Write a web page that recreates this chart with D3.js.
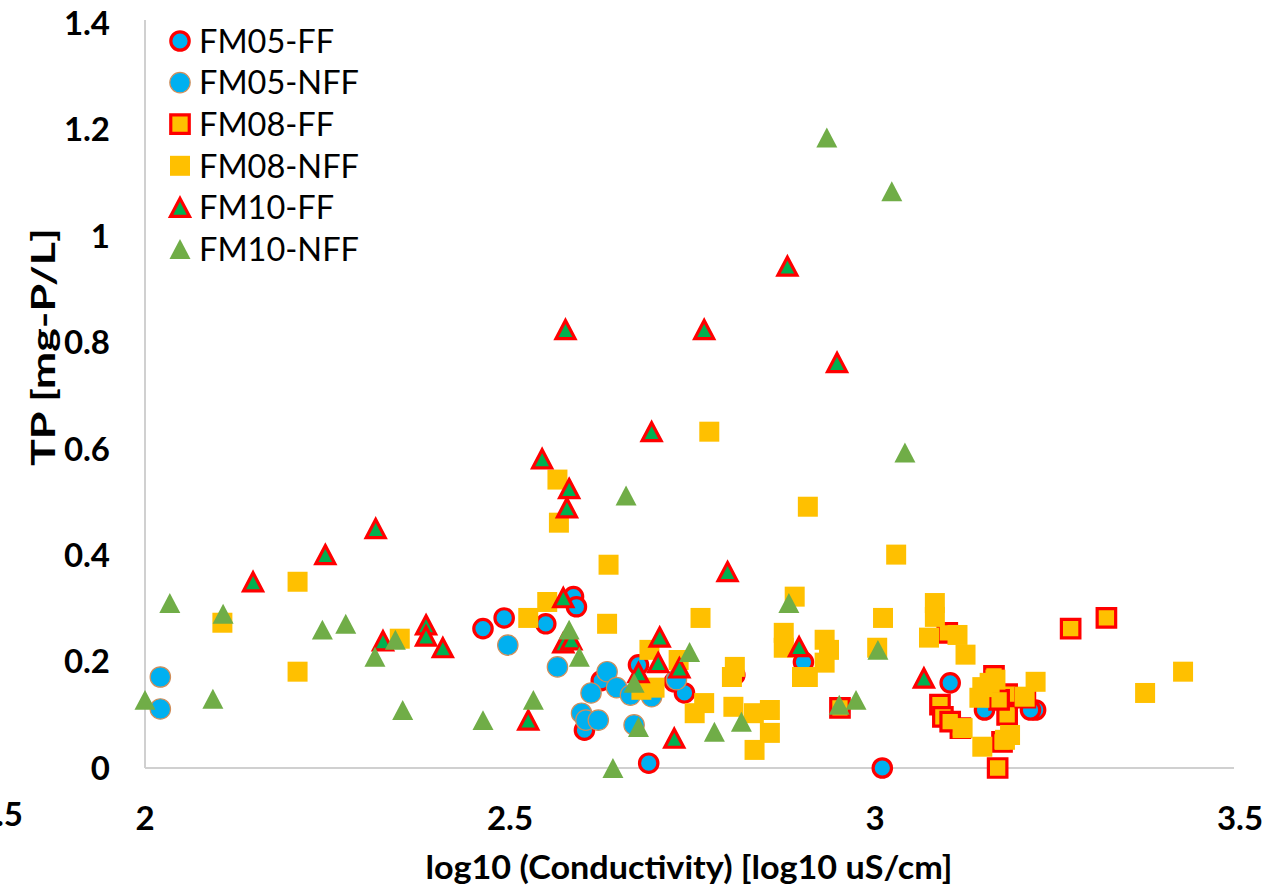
<!DOCTYPE html>
<html>
<head>
<meta charset="utf-8">
<script src="https://cdn.jsdelivr.net/npm/d3@7"></script>
<style>
  html, body { margin: 0; padding: 0; background: #ffffff; overflow: hidden; }
  svg { display: block; }
</style>
</head>
<body>
<svg id="chart" width="1276" height="886"></svg>
<script>
// TP vs log10(conductivity) for three farms, flow-forced (FF) and not (NFF)

const seriesNames = ["FM05-FF", "FM05-NFF", "FM08-FF", "FM08-NFF", "FM10-FF", "FM10-NFF"];

const fm05FF = [
  [2.463, 0.262], [2.492, 0.282], [2.549, 0.271], [2.587, 0.322], [2.591, 0.303],
  [2.602, 0.071], [2.625, 0.164], [2.676, 0.194], [2.725, 0.162], [2.739, 0.141],
  [2.690, 0.009], [2.808, 0.175], [2.902, 0.199], [3.103, 0.160], [3.010, 0.000],
  [3.220, 0.109], [3.213, 0.109], [3.150, 0.109]
];

const fm05NFF = [
  [2.021, 0.171], [2.021, 0.111], [2.497, 0.231], [2.565, 0.190], [2.633, 0.181],
  [2.611, 0.141], [2.646, 0.151], [2.665, 0.137], [2.694, 0.134], [2.598, 0.103],
  [2.604, 0.090], [2.621, 0.090], [2.670, 0.081], [2.728, 0.166], [3.154, 0.134]
];

const fm08FF = [
  [2.952, 0.113], [3.268, 0.262], [3.317, 0.282], [3.099, 0.254], [3.163, 0.173],
  [3.181, 0.139], [3.089, 0.119], [3.093, 0.096], [3.117, 0.075], [3.181, 0.100],
  [3.206, 0.132], [3.174, 0.049], [3.168, 0.000], [3.161, 0.156], [3.103, 0.087],
  [3.170, 0.128]
];

const fm08NFF = [
  [2.106, 0.273], [2.209, 0.181], [2.209, 0.350], [2.349, 0.243], [2.525, 0.282],
  [2.551, 0.312], [2.565, 0.542], [2.567, 0.461], [2.773, 0.632], [2.635, 0.382],
  [2.633, 0.271], [2.761, 0.282], [2.691, 0.222], [2.731, 0.203], [2.698, 0.151],
  [2.680, 0.147], [2.753, 0.103], [2.766, 0.122], [2.804, 0.171], [2.808, 0.190],
  [2.806, 0.115], [2.834, 0.103], [2.835, 0.034], [2.856, 0.109], [2.856, 0.066],
  [2.908, 0.491], [3.029, 0.401], [2.890, 0.322], [2.875, 0.254], [2.875, 0.226],
  [2.931, 0.241], [2.937, 0.222], [2.931, 0.198], [2.900, 0.171], [2.908, 0.171],
  [3.011, 0.282], [3.003, 0.226], [3.082, 0.310], [3.082, 0.284], [3.074, 0.245],
  [3.113, 0.250], [3.124, 0.213], [3.147, 0.152], [3.157, 0.160], [3.165, 0.166],
  [3.220, 0.162], [3.143, 0.132], [3.205, 0.134], [3.120, 0.075], [3.147, 0.040],
  [3.185, 0.062], [3.370, 0.141], [3.422, 0.181], [3.178, 0.053]
];

const fm10FF = [
  [2.148, 0.350], [2.247, 0.401], [2.316, 0.450], [2.326, 0.239], [2.385, 0.269],
  [2.385, 0.248], [2.408, 0.226], [2.525, 0.090], [2.544, 0.581], [2.576, 0.824],
  [2.581, 0.525], [2.578, 0.489], [2.573, 0.320], [2.573, 0.235], [2.584, 0.241],
  [2.694, 0.632], [2.766, 0.824], [2.798, 0.369], [2.705, 0.246], [2.703, 0.198],
  [2.732, 0.188], [2.676, 0.179], [2.725, 0.056], [2.896, 0.228], [3.067, 0.169],
  [2.880, 0.943], [2.948, 0.762]
];

const fm10NFF = [
  [2.000, 0.128], [2.034, 0.310], [2.093, 0.130], [2.107, 0.290], [2.243, 0.260],
  [2.275, 0.271], [2.315, 0.209], [2.343, 0.241], [2.353, 0.109], [2.463, 0.090],
  [2.532, 0.128], [2.581, 0.260], [2.595, 0.209], [2.659, 0.512], [2.641, 0.000],
  [2.670, 0.160], [2.676, 0.077], [2.746, 0.218], [2.780, 0.068], [2.817, 0.087],
  [2.882, 0.310], [2.951, 0.119], [2.974, 0.128], [3.004, 0.222], [3.041, 0.593],
  [2.934, 1.185], [3.023, 1.084]
];

const xTicks = [2, 2.5, 3, 3.5];
const xTickLabels = ["2", "2.5", "3", "3.5"];
const yTicks = [0, 0.2, 0.4, 0.6, 0.8, 1, 1.2, 1.4];
const yTickLabels = ["0", "0.2", "0.4", "0.6", "0.8", "1", "1.2", "1.4"];
const xTitle = "log10 (Conductivity) [log10 uS/cm]";
const yTitle = "TP [mg-P/L]";

// marker styles per series
const RED = "#FF0000";
const styles = {
  "FM05-FF":  { shape: "circle",   fill: "#00B0F0", stroke: RED,       sw: 3.2 },
  "FM05-NFF": { shape: "circle",   fill: "#00B0F0", stroke: "#D08E5A", sw: 1.2 },
  "FM08-FF":  { shape: "square",   fill: "#FFC000", stroke: RED,       sw: 3.2 },
  "FM08-NFF": { shape: "square",   fill: "#FFC000", stroke: "none",    sw: 0 },
  "FM10-FF":  { shape: "triangle", fill: "#00B050", stroke: RED,       sw: 3.2 },
  "FM10-NFF": { shape: "triangle", fill: "#70AD47", stroke: "none",    sw: 0 }
};

const seriesData = {
  "FM05-FF": fm05FF, "FM05-NFF": fm05NFF,
  "FM08-FF": fm08FF, "FM08-NFF": fm08NFF,
  "FM10-FF": fm10FF, "FM10-NFF": fm10NFF
};

// isosceles triangle centred on its bounding box
const triangleType = {
  draw(ctx, size) {
    const w = Math.sqrt(size);
    const h = w * 0.95;
    ctx.moveTo(0, -h / 2);
    ctx.lineTo(w / 2, h / 2);
    ctx.lineTo(-w / 2, h / 2);
    ctx.closePath();
  }
};

function symbolPath(shape, outline) {
  if (shape === "circle") {
    const r = outline ? 9.2 : 10.2;
    return d3.symbol(d3.symbolCircle, Math.PI * r * r)();
  }
  if (shape === "square") {
    const s = outline ? 18.5 : 20;
    return d3.symbol(d3.symbolSquare, s * s)();
  }
  const w = outline ? 19 : 21;
  return d3.symbol(triangleType, w * w)();
}

const svg = d3.select("#chart");

const x = d3.scaleLinear().domain([2, 3.5]).range([145, 1240]);
const y = d3.scaleLinear().domain([0, 1.4]).range([768, 23]);

const tickFont = "Lato, 'Open Sans', sans-serif";

// axis lines
const axisG = svg.append("g");
axisG.append("line")
  .attr("x1", x(2)).attr("x2", x(2))
  .attr("y1", y(1.4) - 3).attr("y2", y(0))
  .attr("stroke", "#D0D0D0").attr("stroke-width", 2);
axisG.append("line")
  .attr("x1", x(2)).attr("x2", x(3.5) - 6)
  .attr("y1", y(0)).attr("y2", y(0))
  .attr("stroke", "#D0D0D0").attr("stroke-width", 2);

// y tick labels
svg.append("g").selectAll("text")
  .data(yTicks)
  .join("text")
  .attr("x", 110)
  .attr("y", d => y(d))
  .attr("dy", "0.36em")
  .attr("text-anchor", "end")
  .attr("font-family", tickFont)
  .attr("font-weight", "bold")
  .attr("font-size", 33)
  .attr("fill", "#000")
  .text((d, i) => yTickLabels[i]);

// x tick labels
svg.append("g").selectAll("text")
  .data(xTicks)
  .join("text")
  .attr("x", d => x(d))
  .attr("y", 830)
  .attr("text-anchor", "middle")
  .attr("font-family", tickFont)
  .attr("font-weight", "bold")
  .attr("font-size", 33)
  .attr("fill", "#000")
  .text((d, i) => xTickLabels[i]);

// neighbouring panel's last x label, cut by the page edge
svg.append("text")
  .attr("x", 23).attr("y", 826)
  .attr("text-anchor", "end")
  .attr("font-family", tickFont)
  .attr("font-weight", "bold")
  .attr("font-size", 33)
  .attr("fill", "#000")
  .text("1.5");

// axis titles
svg.append("text")
  .attr("x", 689)
  .attr("y", 879)
  .attr("text-anchor", "middle")
  .attr("font-family", tickFont)
  .attr("font-weight", "bold")
  .attr("font-size", 33)
  .attr("textLength", 527)
  .attr("lengthAdjust", "spacingAndGlyphs")
  .attr("fill", "#000")
  .text(xTitle);

svg.append("text")
  .attr("transform", "translate(55,347) rotate(-90)")
  .attr("text-anchor", "middle")
  .attr("font-family", tickFont)
  .attr("font-weight", "bold")
  .attr("font-size", 33)
  .attr("textLength", 238)
  .attr("lengthAdjust", "spacingAndGlyphs")
  .attr("fill", "#000")
  .text(yTitle);

// points, drawn series by series so later series sit on top
const plot = svg.append("g");
seriesNames.forEach(name => {
  const st = styles[name];
  const path = symbolPath(st.shape, st.stroke === RED);
  plot.append("g").selectAll("path")
    .data(seriesData[name])
    .join("path")
    .attr("transform", d => `translate(${x(d[0])},${y(d[1])})`)
    .attr("d", path)
    .attr("fill", st.fill)
    .attr("stroke", st.stroke)
    .attr("stroke-width", st.sw)
    .attr("stroke-linejoin", "miter");
});

// legend
const legend = svg.append("g");
seriesNames.forEach((name, i) => {
  const st = styles[name];
  const cy = 41 + i * 41.6;
  legend.append("path")
    .attr("transform", `translate(180,${cy})`)
    .attr("d", symbolPath(st.shape, st.stroke === RED))
    .attr("fill", st.fill)
    .attr("stroke", st.stroke)
    .attr("stroke-width", st.sw);
  legend.append("text")
    .attr("x", 199)
    .attr("y", cy)
    .attr("dy", "0.36em")
    .attr("font-family", tickFont)
    .attr("font-size", 32.5)
    .attr("fill", "#000")
    .text(name);
});
</script>
</body>
</html>
